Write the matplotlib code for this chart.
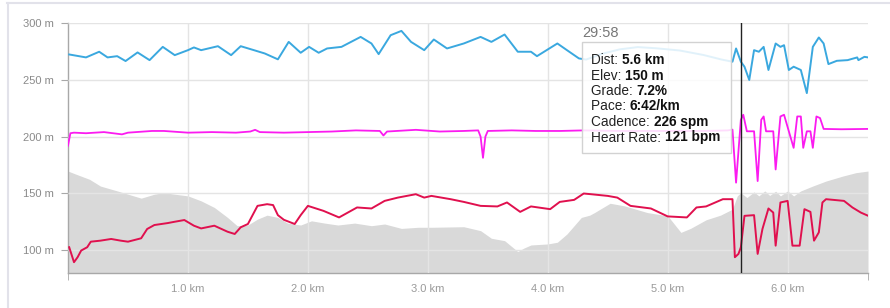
import matplotlib
matplotlib.use("Agg")
import matplotlib.pyplot as plt
from matplotlib.lines import Line2D
from matplotlib.patches import Rectangle
from matplotlib.text import Annotation

plt.rcParams['font.family'] = ['Liberation Sans', 'DejaVu Sans']

# ---- data (km / m) ----
pace_km = [0.01, 0.15, 0.26, 0.33, 0.41, 0.48, 0.58, 0.68, 0.79, 0.89, 1.0, 1.05, 1.11,
           1.25, 1.36, 1.44, 1.55, 1.64, 1.75, 1.84, 1.94, 2.01, 2.09, 2.16, 2.28, 2.44,
           2.53, 2.59, 2.69, 2.78, 2.86, 2.97, 3.05, 3.16, 3.30, 3.44, 3.53, 3.64, 3.75,
           3.86, 3.91, 4.08, 4.16, 4.26, 4.32, 4.45, 4.6, 4.75, 4.9, 5.1, 5.3, 5.45, 5.54,
           5.57, 5.61, 5.64, 5.68, 5.72, 5.76, 5.80, 5.84, 5.90, 5.94, 5.97, 6.01, 6.05,
           6.11, 6.16, 6.21, 6.26, 6.30, 6.34, 6.41, 6.50, 6.58, 6.59, 6.64, 6.67]
pace = [272.5, 269.9, 274.9, 269.9, 271, 266.7, 274.3, 267.5, 279.2, 271.9, 276.3, 278.7,
        276.3, 279.8, 271.9, 279.8, 276.3, 273.4, 268.2, 283.6, 274, 279.2, 274, 277.8,
        279.2, 288, 282.2, 272.8, 289.5, 293.3, 283.6, 276.3, 285.7, 277.8, 282.2, 288,
        283.6, 290.1, 274.9, 274.9, 271, 282.2, 276.3, 269, 268, 273, 277, 279, 278,
        276, 272, 268, 266.1, 277.8, 266.1, 261.7, 250, 276.3, 274.9, 279.2, 258.8,
        282.2, 279.2, 280.7, 258.8, 261.7, 258.8, 238.4, 279.2, 287.5, 282.2, 264,
        266.9, 267.5, 269.9, 267.5, 270.4, 269.9]

cad_km = [0.0, 0.02, 0.05, 0.15, 0.3, 0.45, 0.5, 0.7, 0.8, 1.0, 1.2, 1.4, 1.52, 1.56,
          1.6, 1.8, 2.0, 2.2, 2.4, 2.6, 2.63, 2.66, 2.9, 3.1, 3.3, 3.42, 3.44, 3.46,
          3.48, 3.5, 3.7, 3.9, 4.1, 4.3, 4.6, 5.0, 5.3, 5.5, 5.54, 5.57, 5.61, 5.63,
          5.66, 5.72, 5.75, 5.78, 5.80, 5.82, 5.88, 5.90, 5.94, 5.97, 6.01, 6.05, 6.08,
          6.11, 6.13, 6.16, 6.19, 6.21, 6.24, 6.27, 6.30, 6.45, 6.67]
cadence = [192, 203, 203.5, 203, 204, 202, 203.5, 205, 205, 203.5, 204, 203.5, 204.5, 206,
           204, 203.5, 204, 204.5, 205.5, 205, 201, 204.5, 206, 204.5, 205, 205.5, 200,
           181.3, 200, 205, 205.5, 205, 205, 205.5, 205, 205, 205, 205.5, 206.2, 159.4,
           214.9, 219.3, 204.7, 204.7, 160.8, 214.9, 217.8, 204.7, 204.7, 171, 217.8,
           219.3, 204.7, 190.1, 217.8, 217.8, 190.1, 204.7, 204.7, 190.1, 217.8, 216.4,
           206.8, 206.5, 206.8]

hr_km = [0.01, 0.05, 0.08, 0.11, 0.16, 0.19, 0.27, 0.36, 0.44, 0.50, 0.61, 0.66, 0.72,
         0.83, 0.89, 0.97, 1.05, 1.11, 1.22, 1.33, 1.39, 1.44, 1.50, 1.58, 1.66, 1.71,
         1.75, 1.80, 1.89, 1.94, 2.00, 2.13, 2.26, 2.41, 2.53, 2.64, 2.75, 2.90, 2.97,
         3.03, 3.19, 3.30, 3.44, 3.58, 3.66, 3.77, 3.86, 4.02, 4.10, 4.22, 4.30, 4.36,
         4.50, 4.58, 4.69, 4.86, 5.00, 5.16, 5.24, 5.32, 5.46, 5.54, 5.56, 5.59, 5.61,
         5.64, 5.72, 5.75, 5.79, 5.84, 5.88, 5.90, 5.94, 6.00, 6.04, 6.10, 6.14, 6.19,
         6.22, 6.26, 6.29, 6.32, 6.47, 6.54, 6.61, 6.67]
heart_rate = [102.4, 89.2, 93.6, 99.5, 102.4, 107.3, 108.2, 109.7, 108.2, 107.3, 110.3,
              118.5, 122, 123.7, 124.9, 126.4, 121.4, 119, 121.4, 116.1, 114.1, 120, 122.9,
              138.9, 140.4, 139.6, 130.7, 126.6, 122.9, 130.7, 138.9, 134.5, 128.7, 137.5,
              136.6, 143.3, 146.2, 149.2, 146.2, 147.7, 144.8, 142.4, 138.9, 138.4, 141.9,
              133.6, 138.4, 136, 142.4, 144.2, 149.8, 149.2, 147.7, 146.2, 138.9, 136.6,
              129.6, 128.7, 137.5, 138.4, 144.8, 144.8, 93.6, 96.5, 102.4, 130.1, 130.7,
              96.5, 118.5, 136.6, 133, 103.8, 141.9, 143.3, 103.8, 103.8, 136, 133.6, 108.2,
              115.5, 141.9, 144.8, 143.3, 137.5, 133, 130.2]

elev_km = [0.0, 0.07, 0.18, 0.27, 0.41, 0.61, 0.72, 0.80, 0.89, 1.0, 1.11, 1.22, 1.33,
           1.41, 1.50, 1.58, 1.66, 1.75, 1.83, 1.94, 2.03, 2.14, 2.25, 2.39, 2.53, 2.64,
           2.78, 2.92, 3.03, 3.30, 3.44, 3.53, 3.64, 3.75, 3.80, 3.86, 4.0, 4.08, 4.16,
           4.28, 4.35, 4.39, 4.52, 4.64, 4.83, 5.0, 5.11, 5.19, 5.32, 5.44, 5.54, 5.58,
           5.61, 5.66, 5.72, 5.76, 5.81, 5.85, 5.90, 5.94, 6.0, 6.05, 6.11, 6.21, 6.32,
           6.46, 6.57, 6.67]
elevation = [169.6, 166.7, 162.3, 156.4, 152.1, 145.7, 149.2, 150.6, 149.2, 147.7, 143.3,
             137.5, 128.7, 121.4, 122, 127.2, 130.7, 128.7, 123.7, 122, 125.7, 123.7, 122,
             123.7, 121.4, 122.9, 119, 120, 120, 120.5, 117, 110.3, 108.2, 98.6, 101.6,
             104.4, 105.3, 106.8, 114.1, 128.7, 130.7, 133, 141.2, 138.9, 133, 130.1,
             115.5, 119, 126.6, 130.7, 136, 147.7, 150.6, 146.2, 151.2, 147.7, 152.1,
             148.1, 151.8, 147.7, 152.1, 147.7, 152.1, 156.4, 160.8, 165.2, 168.2, 169.6]

y_ticks = [100, 150, 200, 250, 300]
x_ticks = [1, 2, 3, 4, 5, 6]
cursor_km = 5.608
tooltip_time = "29:58"
tooltip_rows = [("Dist: ", "5.6 km"), ("Elev: ", "150 m"), ("Grade: ", "7.2%"),
                ("Pace: ", "6:42/km"), ("Cadence: ", "226 spm"), ("Heart Rate: ", "121 bpm")]

# ---- figure ----
W, H = 890, 308
fig = plt.figure(figsize=(W / 100, H / 100), dpi=100)
ax = fig.add_axes([68 / W, 1 - 273.3 / H, 800 / W, 250 / H])

ymin, ymax = 79.4, 300
ax.fill_between(elev_km, elevation, ymin, color="#d9d9d9", lw=0, zorder=1)
ax.plot(pace_km, pace, color="#3aa8df", lw=1.4, zorder=3)
ax.plot(cad_km, cadence, color="#fb1bf0", lw=1.3, zorder=3)
ax.plot(hr_km, heart_rate, color="#e0104e", lw=1.4, zorder=3)

ax.set_xlim(0, 6.67)
ax.set_ylim(ymin, ymax)
ax.set_yticks(y_ticks)
ax.set_yticklabels([f"{v} m" for v in y_ticks])
ax.set_xticks(x_ticks)
ax.set_xticklabels([f"{v:.1f} km" for v in x_ticks])
ax.set_xticks([0, 6.67], minor=True)
ax.grid(True, color="#e4e4e4", lw=1)
ax.set_axisbelow(False)
for ln in ax.get_xgridlines() + ax.get_ygridlines():
    ln.set_zorder(2)

for s in ["top", "right"]:
    ax.spines[s].set_visible(False)
for s in ["left", "bottom"]:
    ax.spines[s].set_color("#a8a8a8")
    ax.spines[s].set_linewidth(1)
ax.tick_params(axis="y", length=5, color="#a8a8a8", labelcolor="#8a8a8a",
               labelsize=8, pad=5)
ax.tick_params(axis="x", which="major", length=0, labelcolor="#9a9a9a",
               labelsize=8, pad=8)
ax.tick_params(axis="x", which="minor", length=5, color="#a8a8a8")

# cursor line
ax.axvline(cursor_km, color="#222222", lw=1, zorder=5)

# tooltip
bx, by, bw, bh = 581.7 / W, 1 - 153 / H, 149 / W, 110.5 / H
fig.add_artist(Rectangle((bx, by), bw, bh, transform=fig.transFigure,
                         facecolor="white", alpha=0.85, edgecolor="none", zorder=6))
fig.add_artist(Rectangle((bx, by), bw, bh, transform=fig.transFigure,
                         facecolor="none", edgecolor="#d2d2d2", lw=1, zorder=7))
fig.text(582 / W, 1 - 33 / H, tooltip_time, color="#777777", fontsize=10.5,
         va="center", ha="left")
for i, (lab, val) in enumerate(tooltip_rows):
    t = fig.text(591 / W, 1 - (60 + i * 15.5) / H, lab, fontsize=9.8, color="#222222",
                 va="center", ha="left", zorder=8)
    fig.add_artist(Annotation(val, xy=(1, 0.5), xycoords=t, va="center", ha="left",
                              fontsize=9.8, fontweight="bold", color="#111111",
                              zorder=8))

# panel frame
fig.add_artist(Line2D([7 / W, 1], [1 - 2.5 / H, 1 - 2.5 / H], color="#e2e2ea", lw=1.5))
fig.add_artist(Line2D([7.5 / W, 7.5 / W], [0, 1 - 2.5 / H], color="#e2e2ea", lw=1.5))

fig.savefig("out.png", dpi=100)
